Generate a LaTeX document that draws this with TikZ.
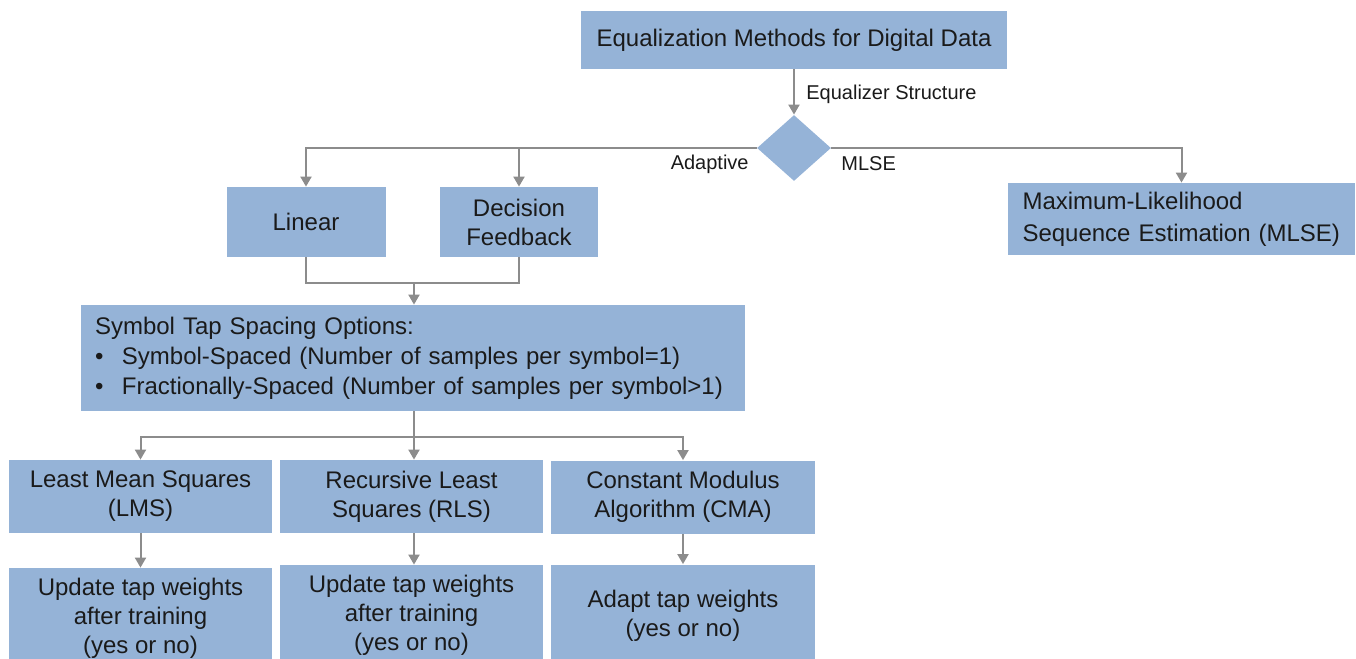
\documentclass[tikz,border=0pt]{standalone}
\usepackage{fontspec}
\setmainfont{Liberation Sans}
\usetikzlibrary{shapes.geometric,arrows.meta}
\definecolor{eqblue}{HTML}{95B3D7}
\definecolor{eqgray}{HTML}{8C8C8C}
\definecolor{eqtext}{HTML}{1A1A1A}
\tikzset{
box/.style={fill=eqblue, text=eqtext, inner sep=0pt, align=center, font=\fontsize{12}{14.5}\selectfont},
lbl/.style={text=eqtext, inner sep=0pt, font=\fontsize{10}{12}\selectfont},
line/.style={draw=eqgray, line width=1pt},
conn/.style={line, -{Triangle[length=5pt,width=5.5pt]}}
}

\begin{document}
\begin{tikzpicture}[x=0.5pt,y=-0.5pt]
\useasboundingbox (0,0) rectangle (1356,659);
\clip (0,0) rectangle (1356,659);
\node[box, minimum width=213pt, minimum height=29pt] (title) at (794,40) {Equalization Methods for Digital Data};
\node[box, diamond, minimum width=37pt, minimum height=33pt] (dia) at (794,148) {};
\node[box, minimum width=79.5pt, minimum height=35pt] (lin) at (306,222) {Linear};
\node[box, minimum width=79pt, minimum height=35pt] (dfe) at (519,222) {Decision\\Feedback};
\node[box, align=left, text width=166pt, minimum width=173.5pt, minimum height=36pt, font=\fontsize{12}{16}\selectfont] (mlse) at (1181.5,219) {\hspace*{3.5pt}Maximum-Likelihood\\\hspace*{3.5pt}Sequence Estimation (MLSE)};
\node[box, align=left, text width=318pt, minimum width=332pt, minimum height=53pt, font=\fontsize{12}{15}\selectfont] (sym) at (413,358) {Symbol Tap Spacing Options:\\\makebox[13.5pt][l]{•}Symbol-Spaced (Number of samples per symbol=1)\\\makebox[13.5pt][l]{•}Fractionally-Spaced (Number of samples per symbol>1)};
\node[box, minimum width=131.5pt, minimum height=36.5pt] (lms) at (140.5,496.5) {Least Mean Squares\\(LMS)};
\node[box, minimum width=131.5pt, minimum height=36.5pt] (rls) at (411.5,496.5) {Recursive Least\\Squares (RLS)};
\node[box, minimum width=132pt, minimum height=36.5pt] (cma) at (683,497) {Constant Modulus\\Algorithm (CMA)};
\node[box, minimum width=131.5pt, minimum height=50pt] (lmsw) at (140.5,618) {Update tap weights\\after training\\(yes or no)};
\node[box, minimum width=131.5pt, minimum height=50pt] (rlsw) at (411.5,615) {Update tap weights\\after training\\(yes or no)};
\node[box, minimum width=132pt, minimum height=51pt] (cmaw) at (683,615.5) {Adapt tap weights\\(yes or no)};
% labels
\node[lbl, anchor=west] (struct) at (806,94) {Equalizer Structure};
\node[lbl, anchor=east] (adapt) at (749,164) {Adaptive};
\node[lbl, anchor=west] (ml) at (841,164) {MLSE};
% connectors
\draw[conn] (title) -- (dia);
\draw[conn] (dia.west) -| (lin.north);
\draw[conn] (dia.west) -| (dfe.north);
\draw[conn] (dia.east) -| (mlse.north);
\coordinate (join) at (414,283);
\draw[line] (lin.south) |- (join) -| (dfe.south);
\draw[conn] (join) -- (sym.north -| join);
\coordinate (split) at (414,437);
\draw[line] (sym.south -| split) -- (split);
\draw[conn] (split) -| (lms.north);
\draw[conn] (split) -- (rls.north -| split);
\draw[conn] (split) -| (cma.north);
\draw[conn] (lms) -- (lmsw);
\draw[conn] (rls.south -| split) -- (rlsw.north -| split);
\draw[conn] (cma) -- (cmaw);
\end{tikzpicture}
\end{document}
